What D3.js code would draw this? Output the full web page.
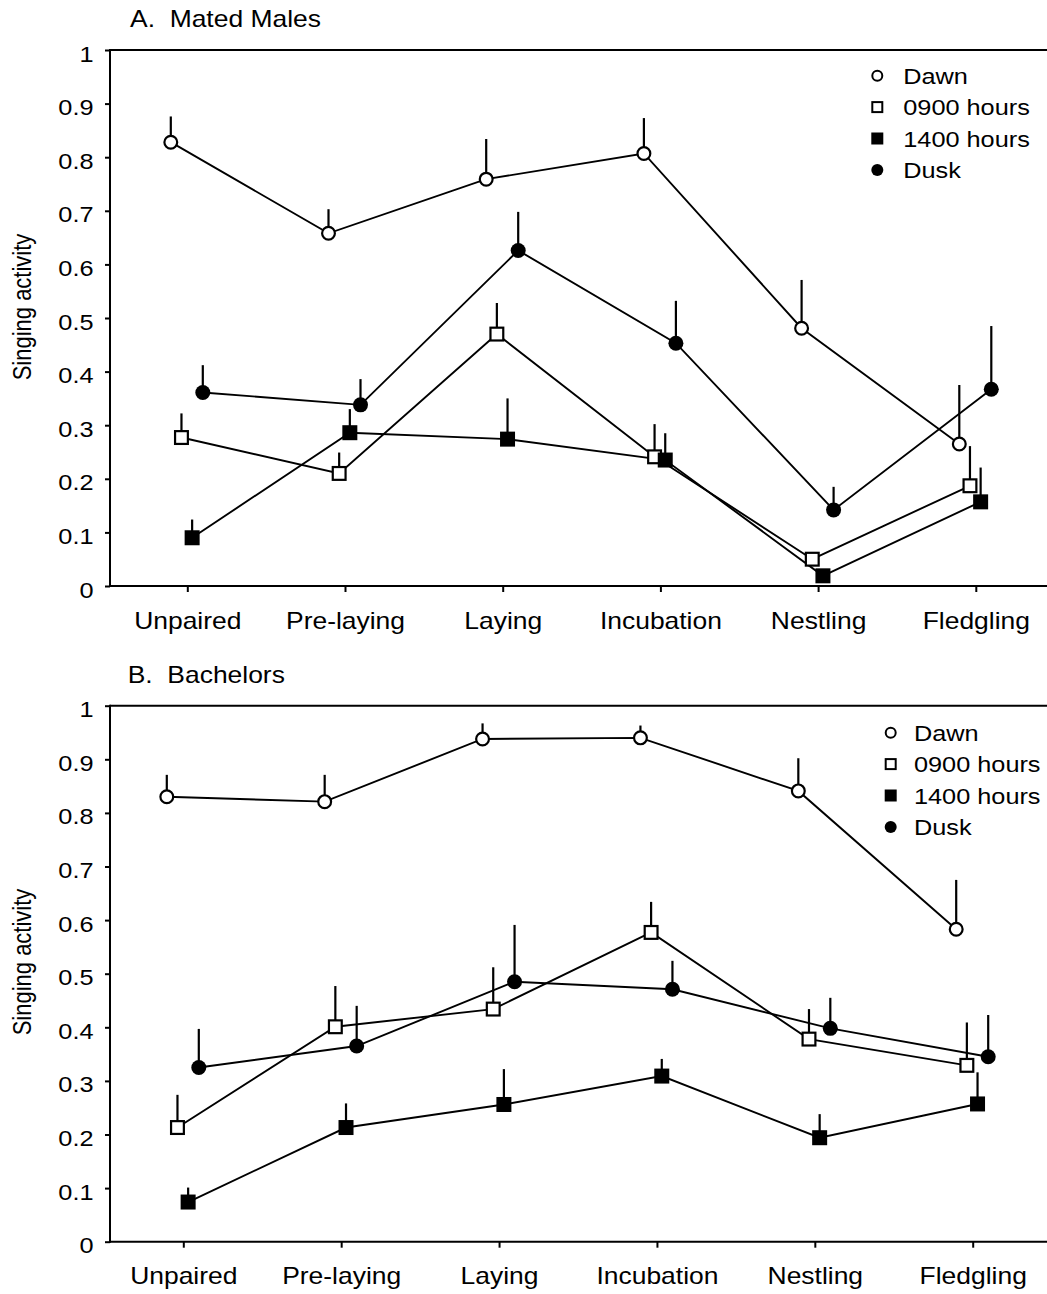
<!DOCTYPE html>
<html>
<head>
<meta charset="utf-8">
<script src="https://cdn.jsdelivr.net/npm/d3@7"></script>
<style>
  html, body { margin: 0; padding: 0; background: #fff; }
  svg { display: block; font-family: "Liberation Sans", Arial, sans-serif; }
  text { fill: #000; white-space: pre; }
</style>
</head>
<body>
<svg id="chart" width="1047" height="1294"></svg>
<script>
// ---------- Data ----------
const categories = ["Unpaired", "Pre-laying", "Laying", "Incubation", "Nestling", "Fledgling"];
const seriesNames = ["Dawn", "0900 hours", "1400 hours", "Dusk"];
const yTickValues = [0, 0.1, 0.2, 0.3, 0.4, 0.5, 0.6, 0.7, 0.8, 0.9, 1];
const panelTitles = ["A.  Mated Males", "B.  Bachelors"];
const yAxisLabel = "Singing activity";

// Panel A: Mated males (means and standard errors)
const matedDawn      = [0.828, 0.658, 0.759, 0.807, 0.481, 0.265];
const matedDawnSE    = [0.048, 0.045, 0.075, 0.066, 0.090, 0.110];
const mated0900      = [0.277, 0.210, 0.470, 0.241, 0.050, 0.187];
const mated0900SE    = [0.045, 0.039, 0.058, 0.061, 0.010, 0.074];
const mated1400      = [0.090, 0.286, 0.274, 0.235, 0.019, 0.157];
const mated1400SE    = [0.034, 0.044, 0.076, 0.050, 0.011, 0.064];
const matedDusk      = [0.361, 0.338, 0.626, 0.453, 0.142, 0.367];
const matedDuskSE    = [0.051, 0.048, 0.072, 0.079, 0.043, 0.118];

// Panel B: Bachelors
const bachDawn       = [0.830, 0.821, 0.938, 0.940, 0.841, 0.583];
const bachDawnSE     = [0.041, 0.050, 0.029, 0.023, 0.061, 0.092];
const bach0900       = [0.213, 0.401, 0.434, 0.577, 0.378, 0.329];
const bach0900SE     = [0.061, 0.076, 0.078, 0.057, 0.056, 0.080];
const bach1400       = [0.074, 0.213, 0.256, 0.309, 0.194, 0.257];
const bach1400SE     = [0.027, 0.045, 0.066, 0.032, 0.044, 0.059];
const bachDusk       = [0.325, 0.365, 0.485, 0.471, 0.398, 0.345];
const bachDuskSE     = [0.072, 0.075, 0.106, 0.053, 0.057, 0.078];

// ---------- Layout / style ----------
const SX = 1.15; // horizontal text stretch of the original figure
const FONT = 22;
const panels = [
  {
    title: panelTitles[0], titleX: 130, titleY: 27.3,
    top: 50, bottom: 586, left: 110, right: 1047,
    xRange: [187.3, 975.8],
    labelY: 307, legendX: 877.3, legendTextX: 903.3, legendY0: 75.7,
    series: [
      { mean: matedDawn, se: matedDawnSE },
      { mean: mated0900, se: mated0900SE },
      { mean: mated1400, se: mated1400SE },
      { mean: matedDusk, se: matedDuskSE }
    ]
  },
  {
    title: panelTitles[1], titleX: 127.7, titleY: 683.3,
    top: 705.7, bottom: 1241.7, left: 110, right: 1047,
    xRange: [183.3, 972.7],
    labelY: 962, legendX: 890.7, legendTextX: 914, legendY0: 732.7,
    series: [
      { mean: bachDawn, se: bachDawnSE },
      { mean: bach0900, se: bach0900SE },
      { mean: bach1400, se: bach1400SE },
      { mean: bachDusk, se: bachDuskSE }
    ]
  }
];

const markerStyle = {
  "Dawn":       { shape: "circle", fill: "#fff" },
  "0900 hours": { shape: "square", fill: "#fff" },
  "1400 hours": { shape: "square", fill: "#000" },
  "Dusk":       { shape: "circle", fill: "#000" }
};

const svg = d3.select("#chart");
const offset = d3.scalePoint().domain(seriesNames).range([-16.5, 15.5]);

function drawMarker(g, name, x, y, size, sw) {
  const st = markerStyle[name];
  if (st.shape === "circle") {
    const r = st.fill === "#000" ? size * 0.5 : size * 0.5 - sw / 2;
    g.append("circle").attr("cx", x).attr("cy", y).attr("r", r)
      .attr("fill", st.fill).attr("stroke", "#000").attr("stroke-width", st.fill === "#000" ? 0 : sw);
  } else {
    const s = st.fill === "#000" ? size : size - sw;
    g.append("rect").attr("x", x - s / 2).attr("y", y - s / 2)
      .attr("width", s).attr("height", s)
      .attr("fill", st.fill).attr("stroke", "#000").attr("stroke-width", st.fill === "#000" ? 0 : sw);
  }
}

panels.forEach(p => {
  const g = svg.append("g");
  const x = d3.scalePoint().domain(categories).range(p.xRange);
  const y = d3.scaleLinear().domain([0, 1]).range([p.bottom, p.top]);

  // Title
  g.append("text")
    .attr("transform", `translate(${p.titleX},${p.titleY}) scale(${SX},1)`)
    .attr("font-size", 23).text(p.title);

  // Y axis label
  g.append("text")
    .attr("transform", `translate(31,${p.labelY}) rotate(-90) scale(1,${SX})`)
    .attr("text-anchor", "middle").attr("font-size", FONT).text(yAxisLabel);

  // Frame lines
  g.append("line").attr("x1", p.left).attr("x2", p.right).attr("y1", p.top).attr("y2", p.top)
    .attr("stroke", "#000").attr("stroke-width", 2);
  g.append("line").attr("x1", p.left).attr("x2", p.right).attr("y1", p.bottom).attr("y2", p.bottom)
    .attr("stroke", "#000").attr("stroke-width", 2);
  g.append("line").attr("x1", p.left).attr("x2", p.left).attr("y1", p.top - 1).attr("y2", p.bottom + 1)
    .attr("stroke", "#000").attr("stroke-width", 2);

  // Y axis
  const yAxis = d3.axisLeft(y).tickValues(yTickValues).tickFormat(d3.format("~g"))
    .tickSize(5).tickPadding(9.5).tickSizeOuter(0);
  const ya = g.append("g").attr("transform", `translate(${p.left},0)`).call(yAxis);
  ya.select(".domain").remove();
  ya.selectAll(".tick line").attr("stroke-width", 2);
  ya.selectAll(".tick text")
    .attr("font-size", FONT).attr("font-family", null)
    .attr("dy", null).attr("y", 0)
    .each(function() {
      const t = d3.select(this);
      t.attr("x", 0).attr("y", 0).attr("transform", `translate(-16.5,11) scale(${SX},1)`);
    });

  // X axis
  const xAxis = d3.axisBottom(x).tickSize(6).tickSizeOuter(0);
  const xa = g.append("g").attr("transform", `translate(0,${p.bottom})`).call(xAxis);
  xa.select(".domain").remove();
  xa.selectAll(".tick line").attr("stroke-width", 2);
  xa.selectAll(".tick text")
    .attr("font-size", FONT + 1).attr("font-family", null)
    .attr("dy", null).attr("y", 0)
    .attr("transform", `translate(0,42.5) scale(${SX},1)`);

  // Series
  const lineGen = d3.line().x(d => d.x).y(d => d.y);
  const seriesPts = p.series.map((s, si) => {
    const name = seriesNames[si];
    return categories.map((c, i) => ({
      name,
      x: x(c) + offset(name),
      y: y(s.mean[i]),
      yTop: y(s.mean[i] + s.se[i])
    }));
  });

  // connecting lines
  seriesPts.forEach(pts => {
    g.append("path").datum(pts).attr("d", lineGen)
      .attr("fill", "none").attr("stroke", "#000").attr("stroke-width", 1.9);
  });
  // error bars (upper only)
  seriesPts.forEach(pts => {
    g.selectAll(null).data(pts).enter().append("line")
      .attr("x1", d => d.x).attr("x2", d => d.x)
      .attr("y1", d => d.y).attr("y2", d => d.yTop)
      .attr("stroke", "#000").attr("stroke-width", 2.2);
  });
  // markers
  seriesPts.forEach(pts => {
    pts.forEach(d => drawMarker(g, d.name, d.x, d.y, 15, 2.2));
  });

  // Legend
  seriesNames.forEach((name, i) => {
    const cy = p.legendY0 + i * 31.4;
    drawMarker(g, name, p.legendX, cy, 12, 2);
    g.append("text")
      .attr("transform", `translate(${p.legendTextX},${cy + 8}) scale(${SX},1)`)
      .attr("font-size", FONT).text(name);
  });
});
</script>
</body>
</html>
